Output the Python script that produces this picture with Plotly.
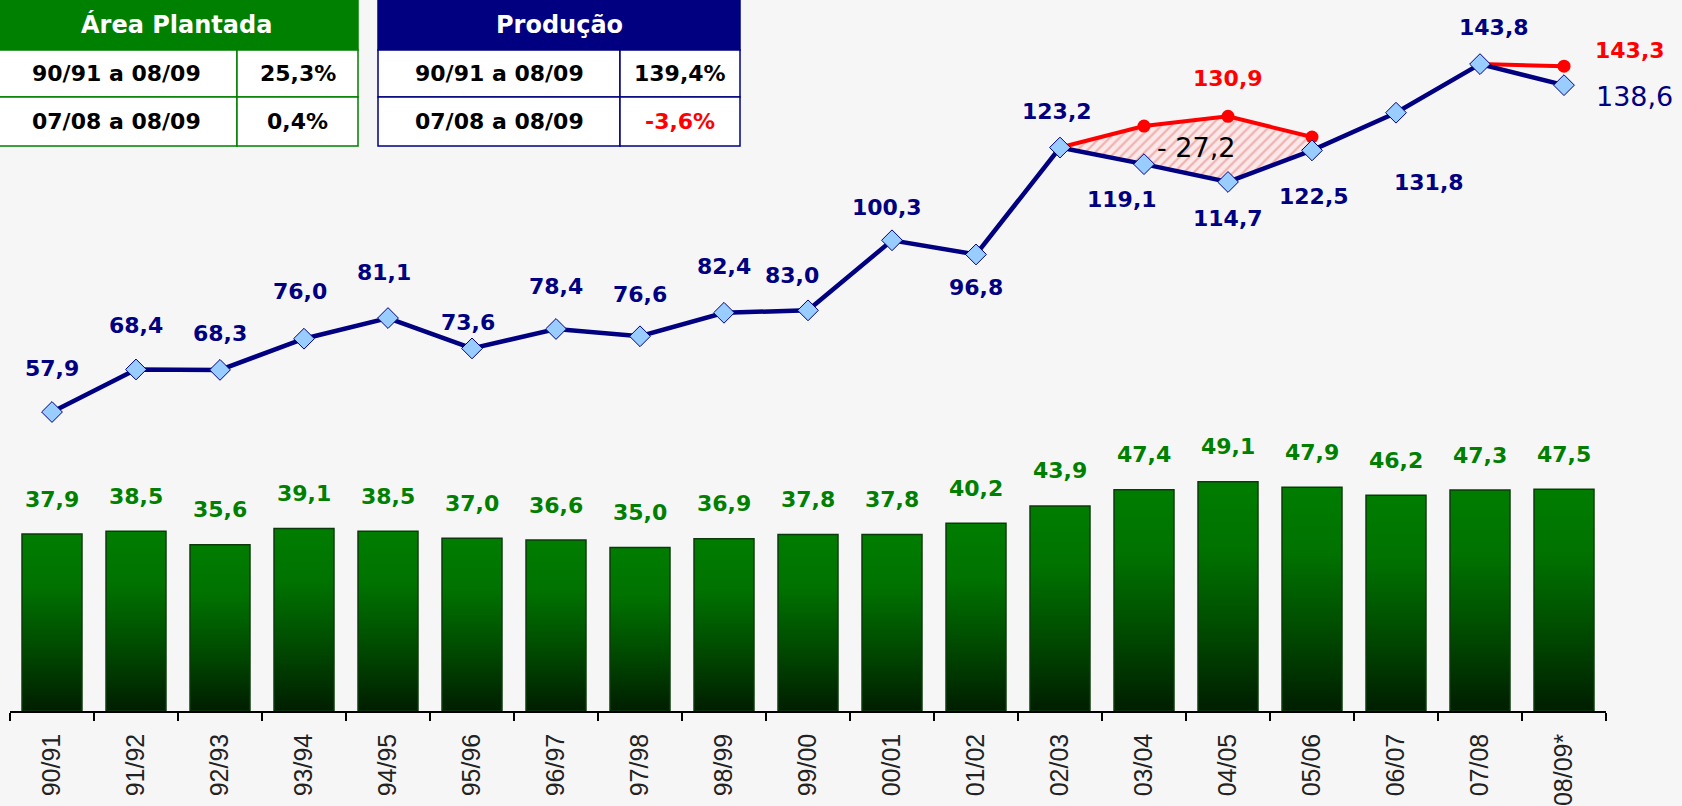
import plotly.graph_objects as go

# Safras
safras = ['90/91', '91/92', '92/93', '93/94', '94/95', '95/96', '96/97', '97/98',
          '98/99', '99/00', '00/01', '01/02', '02/03', '03/04', '04/05', '05/06',
          '06/07', '07/08', '08/09*']

# Area plantada (barras)
area = [37.9, 38.5, 35.6, 39.1, 38.5, 37.0, 36.6, 35.0, 36.9, 37.8,
        37.8, 40.2, 43.9, 47.4, 49.1, 47.9, 46.2, 47.3, 47.5]

# Producao (linha)
producao = [57.9, 68.4, 68.3, 76.0, 81.1, 73.6, 78.4, 76.6, 82.4, 83.0,
            100.3, 96.8, 123.2, 119.1, 114.7, 122.5, 131.8, 143.8, 138.6]

# Producao estimada (linha vermelha)
estimada = [None] * 12 + [123.2, 128.5, 130.9, 125.8, None, 143.8, 143.3]
estimada_rotulos = ['04/05', '08/09*']
perda = '- 27,2'

# Tabelas
area_titulo = 'Área Plantada'
area_linhas = [['90/91 a 08/09', '25,3%'], ['07/08 a 08/09', '0,4%']]
prod_titulo = 'Produção'
prod_linhas = [['90/91 a 08/09', '139,4%'], ['07/08 a 08/09', '-3,6%']]

# ---------------------------------------------------------------
W, H = 1682, 806
L, R, T, B = 10, 76, 0, 95
PW, PH = W - L - R, H - T - B

NAVY = '#000080'
GREEN = '#008000'
RED = '#ff0000'
FONT = 'DejaVu Sans'


def fmt(v):
    return f'{v:.1f}'.replace('.', ',')


def px(x):
    return (x - L) / PW


def py(y):
    return 1 - (y - T) / PH


n = len(safras)
xs = list(range(n))
fig = go.Figure()

# barras com degrade
hw = 0.357
for i, v in enumerate(area):
    fig.add_trace(go.Scatter(
        x=[i - hw, i - hw, i + hw, i + hw, i - hw],
        y=[0, v, v, 0, 0],
        mode='lines', fill='toself',
        line=dict(color='#0c3a0c', width=1.5),
        fillgradient=dict(type='vertical',
                          colorscale=[[0, '#001e00'], [0.4, '#005000'],
                                      [0.7, '#007200'], [1, '#007d00']]),
        hoverinfo='skip', showlegend=False, yaxis='y'))

# area hachurada entre estimada e realizada
idx = [i for i, v in enumerate(estimada) if v is not None and i < 16]
hx = idx + idx[::-1]
hy = [estimada[i] for i in idx] + [producao[i] for i in idx[::-1]]
fig.add_trace(go.Scatter(
    x=hx, y=hy, mode='lines', fill='toself', line=dict(width=0),
    fillcolor='#fbe4e4',
    fillpattern=dict(shape='/', fgcolor='#e57373', bgcolor='#fbe8e8',
                     size=7, solidity=0.3),
    hoverinfo='skip', showlegend=False, yaxis='y2'))

# linha estimada
fig.add_trace(go.Scatter(
    x=xs, y=estimada, mode='lines+markers', connectgaps=False,
    line=dict(color=RED, width=4),
    marker=dict(symbol='circle', size=13, color=RED),
    showlegend=False, yaxis='y2'))

# linha producao
fig.add_trace(go.Scatter(
    x=xs, y=producao, mode='lines+markers',
    line=dict(color=NAVY, width=4.5),
    marker=dict(symbol='diamond', size=16, color='#99ccff',
                line=dict(color=NAVY, width=1)),
    showlegend=False, yaxis='y2'))

ann = []

# rotulos das barras
for i, v in enumerate(area):
    ann.append(dict(x=i, y=v, xref='x', yref='y', text=fmt(v), showarrow=False,
                    xanchor='center', yanchor='middle', yshift=35,
                    font=dict(family=FONT, size=22, color=GREEN, weight='bold')))

# rotulos da producao: deslocamento (dx, dy) em pixels
desloc = {
    '90/91': (0, 44), '91/92': (0, 44), '92/93': (0, 36), '93/94': (-4, 47),
    '94/95': (-4, 46), '95/96': (-4, 26), '96/97': (0, 42), '97/98': (0, 42),
    '98/99': (0, 46), '99/00': (-16, 35), '00/01': (-5, 33), '01/02': (0, -33),
    '02/03': (-3, 36), '03/04': (-22, -35), '04/05': (0, -37), '05/06': (2, -46),
    '06/07': (33, -70), '07/08': (14, 37),
}
for i, (s, v) in enumerate(zip(safras, producao)):
    if s in desloc:
        dx, dy = desloc[s]
        ann.append(dict(x=i, y=v, xref='x', yref='y2', text=fmt(v), showarrow=False,
                        xanchor='center', yanchor='middle', xshift=dx, yshift=dy,
                        font=dict(family=FONT, size=22, color=NAVY, weight='bold')))
    else:
        ann.append(dict(x=i, y=v, xref='x', yref='y2', text=fmt(v), showarrow=False,
                        xanchor='center', yanchor='middle', xshift=70, yshift=-11,
                        font=dict(family=FONT, size=27, color=NAVY)))

# rotulos da estimada
for s in estimada_rotulos:
    i = safras.index(s)
    v = estimada[i]
    if i == n - 1:
        dx, dy = 66, 16
    else:
        dx, dy = 0, 38
    ann.append(dict(x=i, y=v, xref='x', yref='y2', text=fmt(v), showarrow=False,
                    xanchor='center', yanchor='middle', xshift=dx, yshift=dy,
                    font=dict(family=FONT, size=22, color=RED, weight='bold')))

# perda
mid = (estimada[13] + estimada[14] + producao[13] + producao[14]) / 4
ann.append(dict(x=13.5, y=mid, xref='x', yref='y2', text=perda, showarrow=False,
                xanchor='center', yanchor='middle', xshift=10,
                font=dict(family=FONT, size=27, color='#000000')))

# tabelas
shapes = []
rows_y = [0, 50, 97, 146]


def tabela(x0, xm, x1, cor, titulo, linhas):
    shapes.append(dict(type='rect', xref='paper', yref='paper',
                       x0=px(x0), x1=px(x1), y0=py(rows_y[1]), y1=py(rows_y[0]),
                       fillcolor=cor, line=dict(color=cor, width=1.5)))
    ann.append(dict(x=px((x0 + x1) / 2), y=py((rows_y[0] + rows_y[1]) / 2),
                    xref='paper', yref='paper', text=titulo, showarrow=False,
                    xanchor='center', yanchor='middle',
                    font=dict(family=FONT, size=24, color='white', weight='bold')))
    for r, (a, b) in enumerate(linhas):
        ya, yb = rows_y[r + 1], rows_y[r + 2]
        for c0, c1, txt in [(x0, xm, a), (xm, x1, b)]:
            shapes.append(dict(type='rect', xref='paper', yref='paper',
                               x0=px(c0), x1=px(c1), y0=py(yb), y1=py(ya),
                               fillcolor='white', line=dict(color=cor, width=1.5)))
            cor_txt = RED if txt.startswith('-') else 'black'
            ann.append(dict(x=px((c0 + c1) / 2), y=py((ya + yb) / 2),
                            xref='paper', yref='paper', text=txt, showarrow=False,
                            xanchor='center', yanchor='middle',
                            font=dict(family=FONT, size=22, color=cor_txt, weight='bold')))


tabela(-5, 237, 358, GREEN, area_titulo, area_linhas)
tabela(378, 620, 740, NAVY, prod_titulo, prod_linhas)

fig.update_layout(
    width=W, height=H,
    margin=dict(l=L, r=R, t=T, b=B),
    paper_bgcolor='#f6f6f6', plot_bgcolor='rgba(0,0,0,0)',
    showlegend=False,
    xaxis=dict(range=[-0.5, n - 0.5], tickmode='array', tickvals=xs, ticktext=safras,
               tickangle=-90, ticks='', showgrid=False, zeroline=False,
               automargin=False,
               showline=True, linecolor='black', linewidth=1.5,
               ticklabelstandoff=11,
               tickfont=dict(family='Liberation Sans Narrow, Liberation Sans, Arial',
                             size=25, color='#222222'),
               minor=dict(tickmode='array', tickvals=[i - 0.5 for i in range(n + 1)],
                          ticks='outside', ticklen=8, tickwidth=1.5, tickcolor='black')),
    yaxis=dict(range=[0, PH / 4.67], visible=False, showgrid=False, automargin=False),
    yaxis2=dict(range=[-(PH - 646.5) / 4.05, 646.5 / 4.05], overlaying='y',
                visible=False, showgrid=False, automargin=False),
    annotations=ann,
    shapes=shapes,
)

fig.write_html('out.html', config={'displayModeBar': False},
               post_script="document.body.style.margin='0';")
